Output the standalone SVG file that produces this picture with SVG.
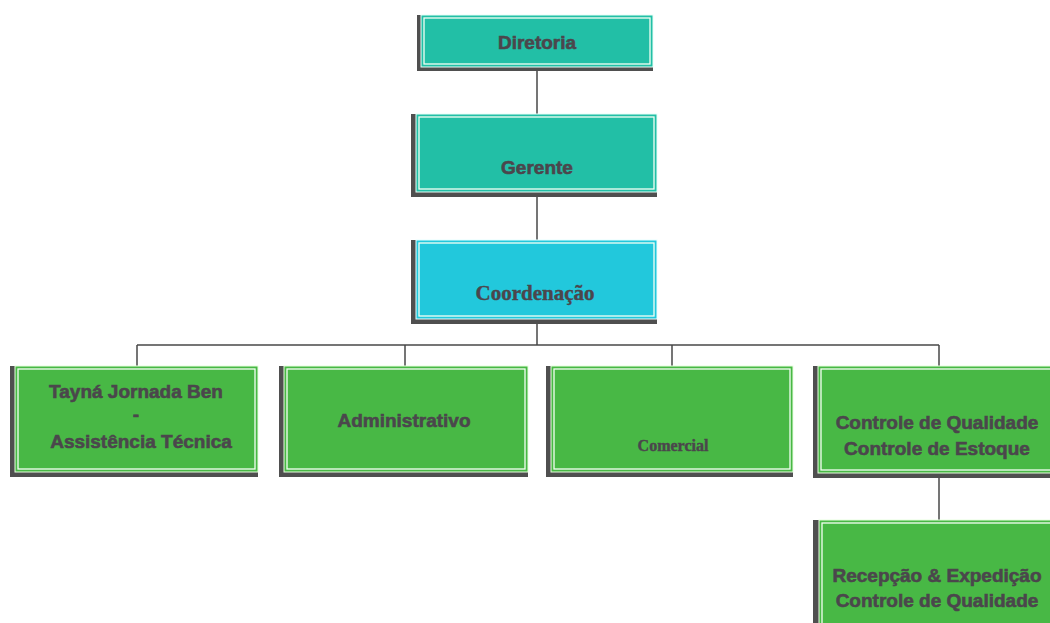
<svg xmlns="http://www.w3.org/2000/svg" width="1050" height="623" viewBox="0 0 1050 623">
<style>
.sh{fill:#4f4f4f}
.teal{fill:#22bfa6;stroke:#e8fff8;stroke-width:1}
.cyan{fill:#22c8dc;stroke:#e8ffff;stroke-width:1}
.green{fill:#48b845;stroke:#e8ffe0;stroke-width:1}
.in{fill:none;stroke:#f4fff4;stroke-width:1.3}
.t{font-family:"Liberation Sans",Arial,sans-serif;font-weight:bold;font-size:19px;fill:#4b464c;stroke:#4b464c;stroke-width:0.6;text-anchor:middle}
.s{font-family:"Liberation Serif","Times New Roman",serif;font-weight:bold;fill:#4b464c;stroke:#4b464c;stroke-width:0.4;text-anchor:middle}
.c{stroke:#474747;stroke-width:1.5;fill:none}
</style>
<rect width="1050" height="623" fill="#ffffff"/>
<g id="connectors">
<line class="c" x1="537" y1="71" x2="537" y2="114"/>
<line class="c" x1="537" y1="197" x2="537" y2="240"/>
<line class="c" x1="537" y1="324" x2="537" y2="345"/>
<line class="c" x1="137" y1="345" x2="939" y2="345"/>
<line class="c" x1="137" y1="345" x2="137" y2="366"/>
<line class="c" x1="405" y1="345" x2="405" y2="366"/>
<line class="c" x1="672" y1="345" x2="672" y2="366"/>
<line class="c" x1="939" y1="345" x2="939" y2="366"/>
<line class="c" x1="939" y1="478" x2="939" y2="520"/>
</g>
<g id="diretoria">
<rect class="sh" x="417" y="15" width="236" height="56"/>
<rect class="teal" x="421" y="15" width="232" height="52"/>
<rect class="in" x="424" y="18" width="226" height="46"/>
<text class="t" x="537" y="49">Diretoria</text>
</g>
<g id="gerente">
<rect class="sh" x="411" y="114" width="246" height="83"/>
<rect class="teal" x="416" y="114" width="241" height="78"/>
<rect class="in" x="419" y="117" width="235" height="72"/>
<text class="t" x="537" y="174">Gerente</text>
</g>
<g id="coordenacao">
<rect class="sh" x="411" y="240" width="246" height="84"/>
<rect class="cyan" x="416" y="240" width="241" height="79"/>
<rect class="in" x="419" y="243" width="235" height="73"/>
<text class="s" x="535" y="300" font-size="21">Coordenação</text>
</g>
<g id="assistencia">
<rect class="sh" x="10" y="366" width="248" height="111"/>
<rect class="green" x="15" y="366" width="243" height="106"/>
<rect class="in" x="18" y="369" width="237" height="100"/>
<text class="t" x="136" y="398">Tayná Jornada Ben</text>
<text class="t" x="136" y="421">-</text>
<text class="t" x="141" y="448">Assistência Técnica</text>
</g>
<g id="administrativo">
<rect class="sh" x="279" y="366" width="249" height="111"/>
<rect class="green" x="284" y="366" width="244" height="106"/>
<rect class="in" x="287" y="369" width="238" height="100"/>
<text class="t" x="404" y="427">Administrativo</text>
</g>
<g id="comercial">
<rect class="sh" x="546" y="366" width="247" height="111"/>
<rect class="green" x="551" y="366" width="242" height="106"/>
<rect class="in" x="554" y="369" width="236" height="100"/>
<text class="s" x="673" y="451" font-size="16">Comercial</text>
</g>
<g id="controle">
<rect class="sh" x="813" y="366" width="245" height="112"/>
<rect class="green" x="818" y="366" width="240" height="107"/>
<rect class="in" x="821" y="369" width="234" height="101"/>
<text class="t" x="937" y="429">Controle de Qualidade</text>
<text class="t" x="937" y="455">Controle de Estoque</text>
</g>
<g id="recepcao">
<rect class="sh" x="813" y="520" width="245" height="110"/>
<rect class="green" x="819" y="520" width="239" height="110"/>
<rect class="in" x="822" y="523" width="233" height="110"/>
<text class="t" x="937" y="582">Recepção &amp; Expedição</text>
<text class="t" x="937" y="607">Controle de Qualidade</text>
</g>
</svg>
